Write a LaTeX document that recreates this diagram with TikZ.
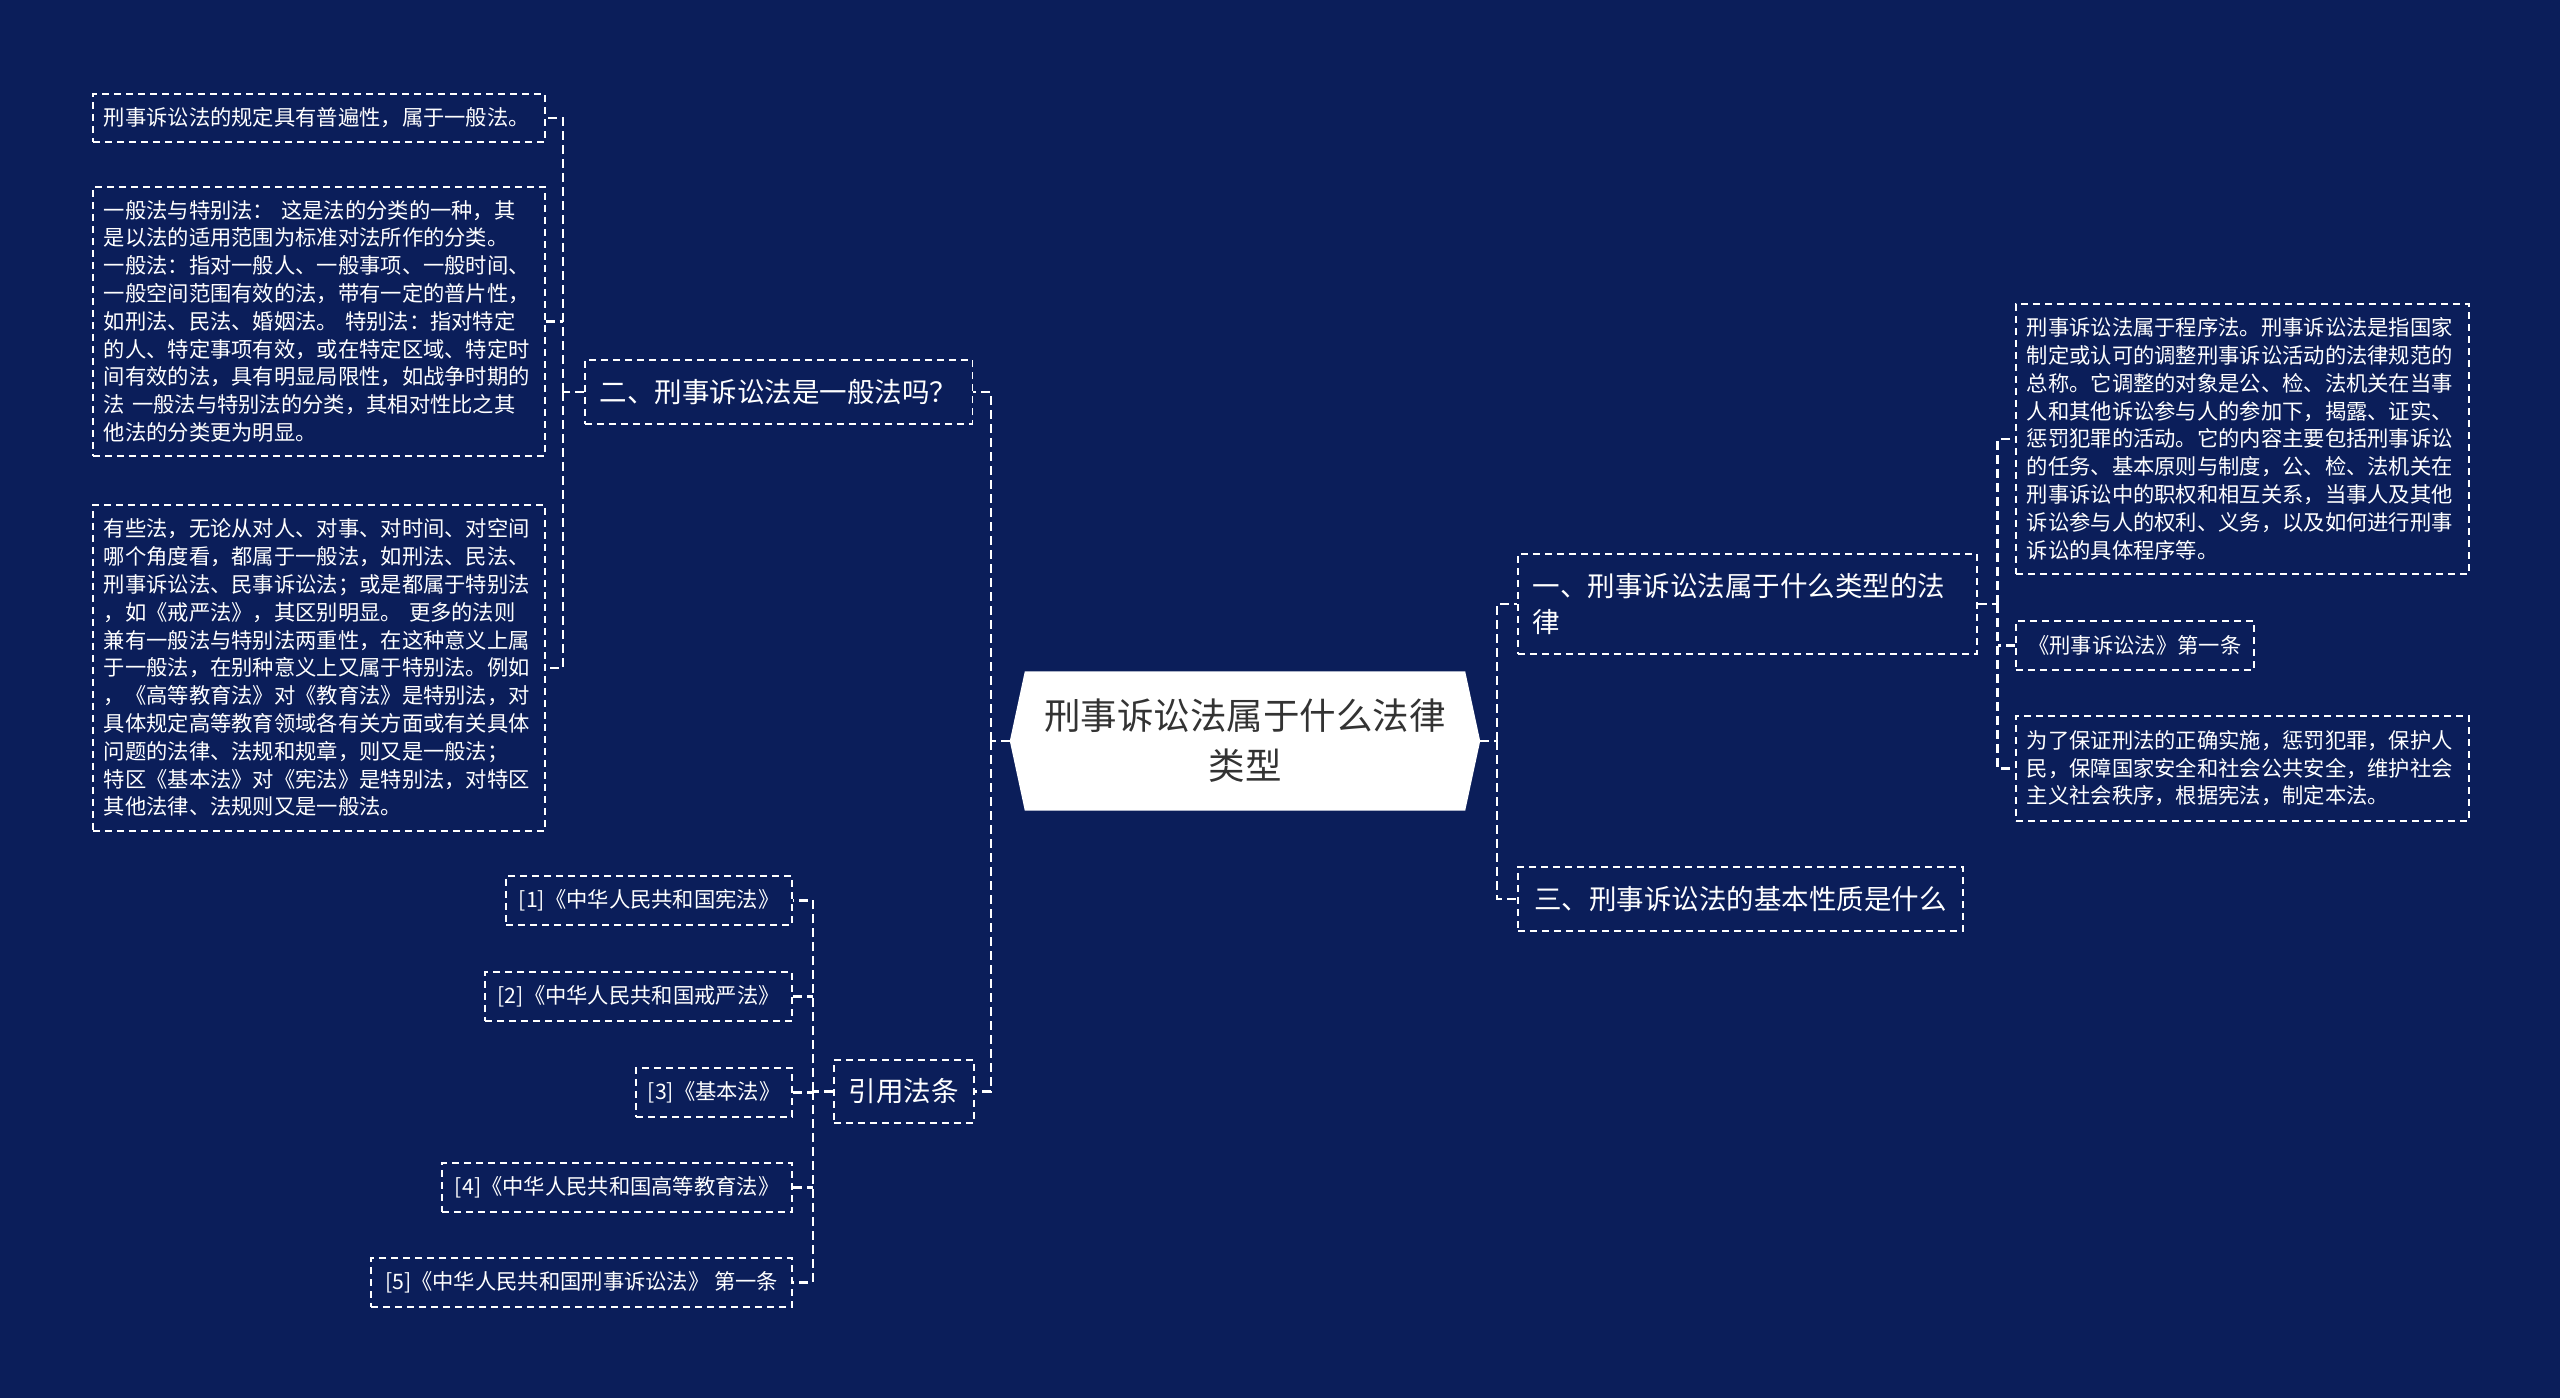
\documentclass[tikz,border=0pt]{standalone}
\usepackage{fontspec}
\newfontfamily\cjk{Noto Sans CJK SC}
\usetikzlibrary{backgrounds}
\definecolor{bgcol}{RGB}{11,30,90}
\definecolor{roottext}{RGB}{51,51,51}
\tikzset{
  box/.style={draw=white, line width=1.6pt, dash pattern=on 7pt off 5pt, text=white, inner ysep=0pt},
  leaf/.style={box, font=\cjk\fontsize{21.3pt}{27.8pt}\selectfont, inner xsep=11pt},
  lvl/.style={box, font=\cjk\fontsize{27.5pt}{36pt}\selectfont, inner xsep=15pt},
  rootnode/.style={font=\cjk\fontsize{36.5pt}{50pt}\selectfont, text=roottext, align=center, inner sep=0pt},
  conn/.style={draw=white, line width=2.4pt, dash pattern=on 9pt off 5pt},
}
\begin{document}
\begin{tikzpicture}[x=1pt,y=-1pt]
\useasboundingbox (0,0) rectangle (2560,1398);

% root
\node[rootnode, minimum width=470pt, minimum height=139pt] (root) at (1245,741) {刑事诉讼法属于什么法律\\类型};
\begin{scope}[on background layer]
\fill[bgcol] (0,0) rectangle (2560,1398);
\fill[white] (root.west) -- ([xshift=15pt]root.north west) -- ([xshift=-15pt]root.north east) -- (root.east) -- ([xshift=-15pt]root.south east) -- ([xshift=15pt]root.south west) -- cycle;
\end{scope}

% left branch: B
\node[lvl, anchor=north west, minimum width=387pt, minimum height=64pt] (B) at (584,359) {二、刑事诉讼法是一般法吗？};

\node[leaf, anchor=north west, minimum width=452pt, minimum height=48pt, text width=430pt, align=left] (A1) at (92,93) {刑事诉讼法的规定具有普遍性，属于一般法。};

\node[leaf, anchor=north west, minimum width=452pt, minimum height=269pt, text width=430pt, align=left] (A2) at (92,186) {一般法与特别法： 这是法的分类的一种，其\\
是以法的适用范围为标准对法所作的分类。\\
一般法：指对一般人、一般事项、一般时间、\\
一般空间范围有效的法，带有一定的普片性，\\
如刑法、民法、婚姻法。 特别法：指对特定\\
的人、特定事项有效，或在特定区域、特定时\\
间有效的法，具有明显局限性，如战争时期的\\
法 一般法与特别法的分类，其相对性比之其\\
他法的分类更为明显。};

\node[leaf, anchor=north west, minimum width=452pt, minimum height=326pt, text width=430pt, align=left] (A3) at (92,504) {有些法，无论从对人、对事、对时间、对空间\\
哪个角度看，都属于一般法，如刑法、民法、\\
刑事诉讼法、民事诉讼法；或是都属于特别法\\
，如《戒严法》，其区别明显。 更多的法则\\
兼有一般法与特别法两重性，在这种意义上属\\
于一般法，在别种意义上又属于特别法。例如\\
，《高等教育法》对《教育法》是特别法，对\\
具体规定高等教育领域各有关方面或有关具体\\
问题的法律、法规和规章，则又是一般法；\\
特区《基本法》对《宪法》是特别法，对特区\\
其他法律、法规则又是一般法。};

% left branch: F
\node[lvl, anchor=north west, minimum width=139pt, minimum height=63pt] (F) at (833,1059) {引用法条};

\node[leaf, anchor=north east, minimum width=286pt, minimum height=49pt] (G1) at (793,875) {[1]《中华人民共和国宪法》};
\node[leaf, anchor=north east, minimum width=307pt, minimum height=49pt] (G2) at (793,971) {[2]《中华人民共和国戒严法》};
\node[leaf, anchor=north east, minimum width=156pt, minimum height=49pt] (G3) at (793,1067) {[3]《基本法》};
\node[leaf, anchor=north east, minimum width=350pt, minimum height=49pt] (G4) at (793,1162) {[4]《中华人民共和国高等教育法》};
\node[leaf, anchor=north east, minimum width=421pt, minimum height=49pt] (G5) at (793,1257) {[5]《中华人民共和国刑事诉讼法》 第一条};

% right branch
\node[lvl, anchor=north west, minimum width=459pt, minimum height=100pt, text width=429pt, align=left] (C) at (1517,553) {一、刑事诉讼法属于什么类型的法\\律};
\node[lvl, anchor=north west, minimum width=445pt, minimum height=64pt] (D) at (1517,866) {三、刑事诉讼法的基本性质是什么};

\node[leaf, anchor=north west, minimum width=453pt, minimum height=270pt, text width=431pt, align=left] (E1) at (2015,303) {刑事诉讼法属于程序法。刑事诉讼法是指国家\\
制定或认可的调整刑事诉讼活动的法律规范的\\
总称。它调整的对象是公、检、法机关在当事\\
人和其他诉讼参与人的参加下，揭露、证实、\\
惩罚犯罪的活动。它的内容主要包括刑事诉讼\\
的任务、基本原则与制度，公、检、法机关在\\
刑事诉讼中的职权和相互关系，当事人及其他\\
诉讼参与人的权利、义务，以及如何进行刑事\\
诉讼的具体程序等。};
\node[leaf, anchor=north west, minimum width=238pt, minimum height=49pt] (E2) at (2015,620) {《刑事诉讼法》第一条};
\node[leaf, anchor=north west, minimum width=453pt, minimum height=105pt, text width=431pt, align=left] (E3) at (2015,715) {为了保证刑法的正确实施，惩罚犯罪，保护人\\
民，保障国家安全和社会公共安全，维护社会\\
主义社会秩序，根据宪法，制定本法。};

% trunk coordinates
\coordinate (tA) at ([xshift=-21pt]B.west);
\coordinate (tB) at ([xshift=-19pt]root.west);
\coordinate (tG) at ([xshift=-20pt]F.west);
\coordinate (tR) at ([xshift=17pt]root.east);
\coordinate (tE) at ([xshift=20pt]C.east);

% connectors
\draw[conn] (root.west) -- (tB);
\draw[conn] (tB) |- (B.east);
\draw[conn] (tB) |- (F.east);

\draw[conn] (B.west) -- (tA);
\draw[conn] (tA) |- (A1.east);
\draw[conn] (tA) |- (A3.east);
\draw[conn] (A2.east) -- (A2.east -| tA);

\draw[conn] (F.west) -- (tG);
\draw[conn] (tG) |- (G1.east);
\draw[conn] (tG) |- (G5.east);
\draw[conn] (G2.east) -- (G2.east -| tG);
\draw[conn] (G3.east) -- (G3.east -| tG);
\draw[conn] (G4.east) -- (G4.east -| tG);

\draw[conn] (root.east) -- (tR);
\draw[conn] (tR) |- (C.west);
\draw[conn] (tR) |- (D.west);

\draw[conn] (C.east) -- (tE);
\draw[conn] (tE) |- (E1.west);
\draw[conn] (tE) |- (E3.west);
\draw[conn] (E2.west) -- (E2.west -| tE);
\end{tikzpicture}
\end{document}
